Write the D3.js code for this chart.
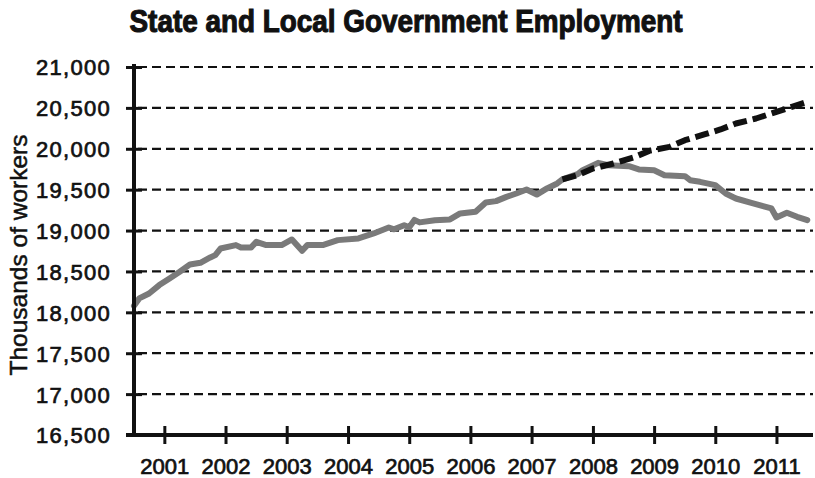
<!DOCTYPE html>
<html>
<head>
<meta charset="utf-8">
<script src="https://cdn.jsdelivr.net/npm/d3@7"></script>
<style>
  html, body { margin: 0; padding: 0; background: #fff; }
  svg { display: block; }
  text { font-family: "Liberation Sans", Arial, Helvetica, sans-serif; fill: #111; }
</style>
</head>
<body>
<svg id="chart" width="815" height="478"></svg>
<script>
// Monthly state and local government employment (thousands of workers)
const actualMonths = [
  "2001-01","2001-02","2001-04","2001-06","2001-08","2001-10","2001-12",
  "2002-02","2002-04","2002-05","2002-06","2002-09","2002-10","2002-12",
  "2003-01","2003-03","2003-06","2003-08","2003-10","2003-11",
  "2004-02","2004-05","2004-09","2004-12",
  "2005-03","2005-04","2005-06","2005-07","2005-08","2005-09","2005-12",
  "2006-03","2006-05","2006-08","2006-10","2006-12",
  "2007-02","2007-04","2007-06","2007-08","2007-10","2007-12",
  "2008-01","2008-04","2008-05","2008-08","2008-10",
  "2009-02","2009-04","2009-07","2009-09",
  "2010-01","2010-02","2010-04","2010-07","2010-09","2010-11",
  "2011-02","2011-06","2011-07","2011-09","2011-11","2012-01"
];
const actualValues = [
  18080, 18170, 18230, 18333, 18415, 18496, 18586,
  18606, 18671, 18700, 18780, 18822, 18794, 18794,
  18862, 18822, 18822, 18891, 18752, 18822,
  18822, 18883, 18904, 18965,
  19038, 19015, 19066, 19040, 19130, 19100, 19127,
  19136, 19209, 19229, 19344, 19360,
  19412, 19453, 19502, 19440, 19515, 19576,
  19625, 19690, 19738, 19828, 19799,
  19787, 19747, 19738, 19677,
  19665, 19616, 19596, 19555, 19453, 19392,
  19338, 19270, 19160, 19217, 19168, 19127
];

// Pre-recession growth path carried forward
const trendMonths = [
  "2008-01","2008-04","2008-07","2008-11",
  "2009-03","2009-06","2009-10",
  "2010-01","2010-05","2010-08","2010-11",
  "2011-03","2011-07","2011-10","2012-01"
];
const trendValues = [
  19625, 19677, 19759, 19820,
  19894, 19974, 20023,
  20105, 20178, 20236, 20309,
  20370, 20452, 20513, 20574
];

const yTickValues = [16500, 17000, 17500, 18000, 18500, 19000, 19500, 20000, 20500, 21000];
const xTickYears = [2001, 2002, 2003, 2004, 2005, 2006, 2007, 2008, 2009, 2010, 2011];

const titleText = "State and Local Government Employment";
const yTitleText = "Thousands of workers";

// ---- layout ----
const W = 815, H = 478;
const M = { top: 67, right: 2, bottom: 43, left: 134 };
const parseMonth = d3.timeParse("%Y-%m");
const INK = "#111";

const svg = d3.select("#chart");
svg.append("rect").attr("width", W).attr("height", H).attr("fill", "#fff");

const x = d3.scaleTime()
  .domain([new Date(2001, 0, 1), new Date(2012, 1, 4)])
  .range([M.left, W - M.right]);
const y = d3.scaleLinear()
  .domain([16500, 21000])
  .range([H - M.bottom, M.top]);

// dashed horizontal gridlines
svg.append("g")
  .selectAll("line")
  .data(yTickValues.filter(v => v !== 16500))
  .join("line")
  .attr("x1", M.left + 4)
  .attr("x2", W - M.right)
  .attr("y1", d => y(d))
  .attr("y2", d => y(d))
  .attr("stroke", INK)
  .attr("stroke-width", 2.2)
  .attr("stroke-dasharray", "9,5");

// series
const actual = actualMonths.map((m, i) => ({ date: parseMonth(m), value: actualValues[i] }));
const trend = trendMonths.map((m, i) => ({ date: parseMonth(m), value: trendValues[i] }));
const line = d3.line().x(d => x(d.date)).y(d => y(d.value));

svg.append("path")
  .datum(actual)
  .attr("d", line)
  .attr("fill", "none")
  .attr("stroke", "#7a7a7a")
  .attr("stroke-width", 6)
  .attr("stroke-linejoin", "round")
  .attr("stroke-linecap", "round");

svg.append("path")
  .datum(trend)
  .attr("d", line)
  .attr("fill", "none")
  .attr("stroke", INK)
  .attr("stroke-width", 6)
  .attr("stroke-dasharray", "14,6")
  .attr("stroke-linejoin", "round");

// shared look for tick labels: slightly heavy sans
function styleLabels(sel) {
  sel.attr("font-family", "'Liberation Sans', Arial, Helvetica, sans-serif")
    .attr("font-size", 22)
    .attr("fill", INK)
    .attr("stroke", INK)
    .attr("stroke-width", 0.7);
}

// y axis
const yAxis = d3.axisLeft(y)
  .tickValues(yTickValues)
  .tickFormat(d3.format(","))
  .tickSize(8)
  .tickPadding(15);
const gy = svg.append("g").attr("transform", `translate(${M.left},0)`).call(yAxis);
gy.select(".domain").remove();
gy.selectAll(".tick line")
  .attr("x1", -8).attr("x2", 8)
  .attr("stroke", INK).attr("stroke-width", 3);
gy.selectAll(".tick text")
  .call(styleLabels)
  .attr("letter-spacing", "1.3px")
  .attr("dy", "0.36em");

// x axis, ticks centred on each year
const xAxis = d3.axisBottom(x)
  .tickValues(xTickYears.map(yr => new Date(yr, 6, 1)))
  .tickFormat(d3.timeFormat("%Y"))
  .tickSize(9)
  .tickPadding(14);
const gx = svg.append("g").attr("transform", `translate(0,${H - M.bottom})`).call(xAxis);
gx.select(".domain").remove();
gx.selectAll(".tick line")
  .attr("y1", -9).attr("y2", 9)
  .attr("stroke", INK).attr("stroke-width", 3);
gx.selectAll(".tick text").call(styleLabels);

// axis lines
svg.append("line")
  .attr("x1", M.left).attr("x2", M.left)
  .attr("y1", y(21000) - 3).attr("y2", y(16500))
  .attr("stroke", INK).attr("stroke-width", 4);
svg.append("line")
  .attr("x1", M.left - 8).attr("x2", W - M.right)
  .attr("y1", y(16500)).attr("y2", y(16500))
  .attr("stroke", INK).attr("stroke-width", 4);

// axis title
svg.append("text")
  .attr("transform", `translate(27,255) rotate(-90)`)
  .attr("text-anchor", "middle")
  .attr("font-size", 24.5)
  .attr("stroke", INK)
  .attr("stroke-width", 0.5)
  .text(yTitleText);

// chart title, heavy condensed face
svg.append("text")
  .attr("x", 406)
  .attr("y", 32)
  .attr("text-anchor", "middle")
  .attr("font-family", "'Liberation Sans Narrow', 'DejaVu Sans Condensed', Arial, sans-serif")
  .attr("font-weight", "bold")
  .attr("font-size", 31)
  .attr("stroke", INK)
  .attr("stroke-width", 1.1)
  .attr("textLength", 553)
  .attr("lengthAdjust", "spacingAndGlyphs")
  .text(titleText);
</script>
</body>
</html>
